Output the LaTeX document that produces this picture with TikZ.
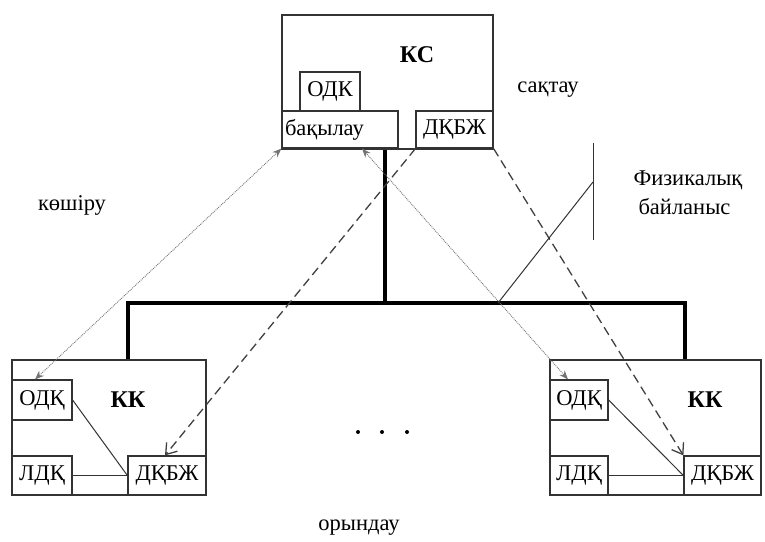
\documentclass[tikz,border=0pt]{standalone}
\usepackage{fontspec}
\setmainfont{Liberation Serif}
\usetikzlibrary{arrows.meta}
\tikzset{
  unit box/.style={
    draw=black!80,
    line width=1.2pt,
    inner sep=0pt,
    font=\fontsize{22.5}{27}\selectfont
  },
  unit title/.style={
    font=\fontsize{24}{28}\selectfont\bfseries
  },
  bus line/.style={
    line width=3.5pt,
    color=black
  },
  copy link/.style={
    {Stealth[length=9pt,width=7pt]}-{Stealth[length=9pt,width=7pt]},
    densely dotted,
    line width=0.9pt,
    color=black!55
  },
  store link/.style={
    -{Straight Barb[length=10pt,width=14pt]},
    dash pattern=on 9pt off 5pt,
    line width=1.3pt,
    color=black!75
  },
  local link/.style={
    line width=1pt,
    color=black!80
  },
  side label/.style={
    font=\fontsize{22.5}{29}\selectfont
  },
  dot mark/.style={
    circle,
    fill=black,
    inner sep=0pt,
    minimum size=4pt
  }
}

\begin{document}
\begin{tikzpicture}[x=1pt, y=-1pt]
    \useasboundingbox (0,0) rectangle (765,541);

    % КС
    \node[unit box, minimum width=211pt, minimum height=134pt] (ks) at (387.5,82) {};
    \node[unit title] (ks title) at (417,55) {КС};
    \node[unit box, minimum width=60pt, minimum height=39pt] (ks odk) at (330,91.5) {ОДК};
    \node[unit box, minimum height=37pt, text width=110pt, inner xsep=3pt, align=left] (ks bak) at (340,129.5) {бақылау};
    \node[unit box, minimum width=77pt, minimum height=37pt] (ks dkbzh) at (454.5,129.5) {ДҚБЖ};

    % сол жақ КК
    \node[unit box, minimum width=194pt, minimum height=135pt] (kk left) at (109,427.5) {};
    \node[unit title] (kk left title) at (128,400) {КК};
    \node[unit box, minimum width=60pt, minimum height=40pt] (left odk) at (42,400) {ОДҚ};
    \node[unit box, minimum width=60pt, minimum height=39pt] (left ldk) at (42,475.5) {ЛДҚ};
    \node[unit box, minimum width=78pt, minimum height=39pt] (left dkbzh) at (167,475.5) {ДҚБЖ};

    % оң жақ КК
    \node[unit box, minimum width=211pt, minimum height=135pt] (kk right) at (655.5,427.5) {};
    \node[unit title] (kk right title) at (705,400) {КК};
    \node[unit box, minimum width=58pt, minimum height=40pt] (right odk) at (579,400) {ОДҚ};
    \node[unit box, minimum width=58pt, minimum height=39pt] (right ldk) at (579,475.5) {ЛДҚ};
    \node[unit box, minimum width=77pt, minimum height=39pt] (right dkbzh) at (722.5,475.5) {ДҚБЖ};

    % шина
    \coordinate (bus left) at (128,303);
    \coordinate (bus mid) at (385,303);
    \coordinate (bus right) at (685,303);
    \draw[bus line] (ks.south -| bus mid) -- (bus mid);
    \draw[bus line] (kk left.north -| bus left) -- (bus left) -- (bus right) -- (kk right.north -| bus right);

    % ішкі байланыстар
    \draw[local link] (left odk.east) -- (left dkbzh.west);
    \draw[local link] (left ldk.east) -- (left dkbzh.west);
    \draw[local link] (right odk.east) -- (right dkbzh.west);
    \draw[local link] (right ldk.east) -- (right dkbzh.west);

    % көшіру және сақтау
    \draw[copy link] (ks bak.south west) -- ([xshift=-7pt]left odk.north);
    \draw[copy link] ([xshift=22pt]ks bak.south) -- ([xshift=-11pt]right odk.north);
    \draw[store link] (ks dkbzh.south west) -- ([xshift=-2pt]left dkbzh.north);
    \draw[store link] (ks dkbzh.south east) -- (right dkbzh.north west);

    % физикалық байланыс
    \coordinate (phys top) at (593,143);
    \coordinate (phys bottom) at (593,240);
    \coordinate (phys joint) at (593,182);
    \coordinate (phys foot) at (498,303);
    \draw[local link] (phys top) -- (phys bottom);
    \draw[local link] (phys joint) -- (phys foot);
    \node[side label, anchor=west, align=left] (phys label) at (630,193) {Физикалық\\\hspace*{5pt}байланыс};

    % жазулар
    \node[side label] (store label) at (548,90) {сақтау};
    \node[side label] (copy label) at (72,205) {көшіру};
    \node[side label] (run label) at (359,528) {орындау};

    % . . .
    \foreach \x [count=\i] in {358,382,407} {
      \node[dot mark] (dot \i) at (\x,432) {};
    }
\end{tikzpicture}
\end{document}
